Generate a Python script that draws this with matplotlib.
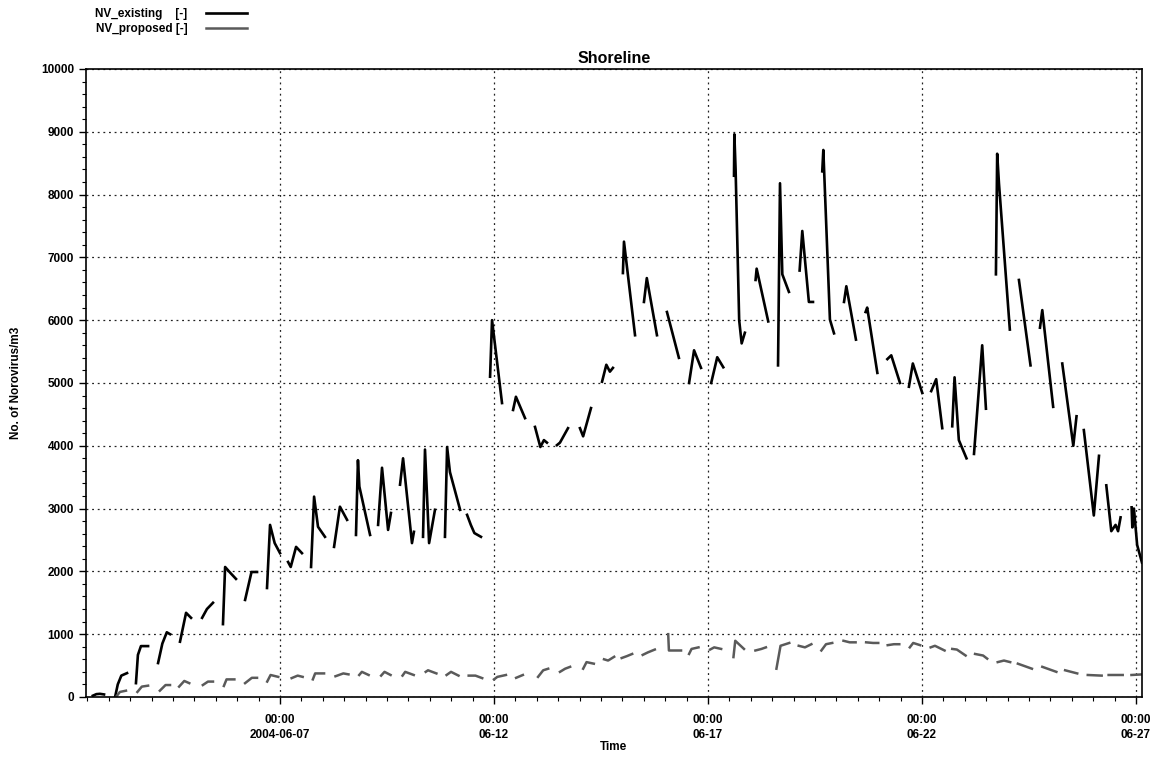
import numpy as np
import matplotlib
matplotlib.use("Agg")
import matplotlib.pyplot as plt
import matplotlib.dates as mdates
from matplotlib.ticker import MultipleLocator

plt.rcParams['font.family'] = ['Liberation Sans', 'DejaVu Sans']

start = np.datetime64('2004-06-02T00:00')

# NV_existing: one piece per tide window (hours after 2004-06-02 00:00, count per m3)
existing_hours = [
    [15, 17, 19, 21.3], [27.5, 29, 31, 34.2], [39.2, 40.3, 42, 46], [51.6, 54, 56.5, 58.3],
    [63.9, 67.3, 70.1], [76.3, 79, 82.4], [88, 89.2, 92, 95.3], [100.4, 104, 107.1],
    [112.7, 114.4, 117, 120], [124.5, 126, 129, 132.3], [137.4, 139.1, 141.3, 145.2],
    [150.3, 153.6, 157.6], [162.6, 163.7, 164.5, 170.5], [175, 177.2, 180.6, 182.2],
    [187.3, 189, 194, 195.1], [200.2, 201.3, 203.6, 206.9], [212.5, 213.7, 215.3, 221],
    [224.9, 227, 229, 232.7], [237.8, 238.9, 244.5], [250.7, 252.3, 257.4],
    [263, 266, 268, 269.7], [275.3, 277, 281.5], [288.2, 290, 294.4],
    [300.6, 303, 305, 306.7], [312.3, 312.9, 319.1], [324.1, 325.7, 331.4], [337, 343.7],
    [349.4, 352.2, 356.1], [361.8, 365.2, 368.6],
    [374.6, 374.8, 375.5, 376.5, 377.5, 378.9, 380.7], [386.7, 387.3, 393.8],
    [399.3, 400.4, 401.7, 405.4], [411.4, 412.9, 416.6, 418.9], [424.1, 424.7, 428.4, 430.7],
    [436.3, 437.6, 443], [448.4, 449.3, 455], [460.6, 462.8, 467.7], [472.7, 474.9, 480.2],
    [485.2, 488, 491.4], [497, 498.3, 500.7, 505], [509.2, 513.8, 515.9],
    [521.5, 522.2, 523.2, 529.3], [534.4, 540.9], [546.2, 547.5, 553.6],
    [558.7, 564.9, 566.7], [570.8, 576.4, 579.3], [583.4, 586.2, 588.6, 590, 591.4],
    [597.6, 598, 598.9, 600.7, 603.4],
]
existing_values = [
    [20, 45, 50, 40], [0, 200, 340, 380], [220, 670, 810, 810], [540, 850, 1030, 1000],
    [880, 1340, 1260], [1260, 1400, 1500], [1160, 2070, 1980, 1880], [1545, 1990, 1990],
    [1735, 2740, 2450, 2290], [2150, 2070, 2390, 2290], [2070, 3190, 2710, 2550],
    [2390, 3030, 2820], [2580, 3770, 3350, 2580], [2740, 3650, 2660, 2930],
    [3380, 3800, 2450, 2630], [2550, 3940, 2450, 2980], [2550, 3980, 3580, 2980],
    [2900, 2740, 2610, 2550], [5100, 6000, 4680], [4570, 4780, 4440],
    [4300, 3980, 4090, 4050], [4010, 4050, 4280], [4280, 4150, 4600],
    [5020, 5290, 5180, 5240], [6750, 7250, 5760], [6290, 6670, 5760], [6130, 5400],
    [5000, 5520, 5240], [5000, 5410, 5250],
    [8300, 8960, 8400, 7200, 6000, 5630, 5800], [6640, 6820, 5980],
    [5280, 8180, 6730, 6450], [6790, 7420, 6290, 6290], [8370, 8710, 6010, 5790],
    [6290, 6540, 5690], [6130, 6200, 5160], [5380, 5440, 5000], [4940, 5310, 4840],
    [4870, 5060, 4280], [4310, 5090, 4090, 3800], [3870, 5600, 4590],
    [6730, 8650, 8180, 5850], [6640, 5280], [5880, 6160, 4620],
    [5310, 4000, 4470], [4250, 2890, 3840], [3370, 2640, 2740, 2640, 2860],
    [3020, 2700, 3000, 2420, 2140],
]

# NV_proposed
proposed_hours = [
    [28, 30.2, 33.6], [40, 42.5, 46], [52.6, 55.8, 58.3], [63.4, 66.3, 69.1],
    [76.7, 79.6, 82.4], [88.5, 90, 94.4], [100.4, 104.2, 107.1], [112.8, 114.7, 119],
    [126.5, 129.9, 132.7], [138.4, 139.7, 144.7], [151.1, 155.5, 158.4],
    [164.4, 165.9, 169.7], [176.7, 178.6, 182], [188.7, 190.2, 195], [201.7, 203, 207.7],
    [213.4, 215.9, 220.1], [225.8, 229.6, 233.4], [240, 241.9, 246.7], [252.4, 256.2],
    [264.7, 267.6, 270.4], [277, 279.9, 282.7], [290, 291.9, 296], [301.7, 304, 307.4],
    [311.6, 314.5, 317.5], [323.4, 326.3, 330.2], [337.7, 338.1, 344.9],
    [349.4, 350.8, 354.7], [361.2, 363.5, 367.4], [374.3, 375.3, 380.2],
    [386.6, 390, 392.5], [398.4, 400.7, 405.6], [410.9, 414.4, 418], [423.6, 426.2, 429.7],
    [436, 439.5, 442.8], [448.7, 452.6, 455.5], [460.8, 464.3, 467.3], [473.2, 475.1, 479],
    [484.9, 487.3, 492.7], [497, 499.6, 504.5], [509.8, 514.3, 516.6], [522.5, 526, 529.5],
    [533.8, 541.7], [547.5, 555.4], [560.3, 567.1], [573, 580.8], [584.7, 592.6],
    [597.5, 604],
]
proposed_values = [
    [0, 80, 100], [80, 165, 180], [100, 190, 190], [165, 255, 220],
    [190, 245, 245], [175, 280, 280], [220, 305, 305], [245, 350, 320],
    [300, 340, 320], [280, 375, 375], [330, 375, 360],
    [350, 400, 350], [340, 400, 350], [340, 400, 350], [400, 425, 375],
    [350, 400, 340], [340, 340, 300], [280, 320, 350], [305, 350],
    [320, 425, 450], [400, 450, 480], [450, 555, 530], [600, 580, 640],
    [620, 650, 685], [670, 710, 755], [1000, 740, 740],
    [685, 765, 790], [755, 790, 765], [635, 895, 765],
    [740, 765, 790], [450, 815, 860], [815, 790, 840], [740, 840, 860],
    [895, 870, 870], [870, 860, 860], [825, 840, 840], [790, 860, 825],
    [790, 815, 740], [765, 755, 660], [685, 660, 610], [555, 580, 555],
    [530, 450], [480, 400], [425, 375], [350, 340], [350, 350],
    [350, 360],
]

tick_days = ['2004-06-07', '2004-06-12', '2004-06-17', '2004-06-22', '2004-06-27']
tick_labels = ['00:00\n2004-06-07', '00:00\n06-12', '00:00\n06-17', '00:00\n06-22', '00:00\n06-27']


def to_time(hours):
    return start + (np.asarray(hours) * 60).round().astype('timedelta64[m]')


def join(hours_list, values_list):
    # pieces separated by NaN so the line breaks between tide windows
    t, v = [], []
    for h, y in zip(hours_list, values_list):
        t.extend(to_time(h))
        v.extend(y)
        t.append(to_time([h[-1] + 0.01])[0])
        v.append(np.nan)
    return np.array(t), np.array(v, dtype=float)


fig = plt.figure(figsize=(11.61, 7.57), dpi=100)
ax = fig.add_axes([0.0741, 0.0793, 0.9095, 0.8296])

te, ve = join(existing_hours, existing_values)
tp, vp = join(proposed_hours, proposed_values)
l1, = ax.plot(te, ve, color='black', lw=1.9, label='NV_existing    [-]')
l2, = ax.plot(tp, vp, color='#5a5a5a', lw=1.8, label='NV_proposed [-]')

ax.set_ylim(0, 10000)
ax.set_xlim(to_time([11.2])[0], to_time([603.4])[0])
ax.yaxis.set_major_locator(MultipleLocator(1000))
ax.yaxis.set_minor_locator(MultipleLocator(200))
ax.set_xticks([np.datetime64(d + 'T00:00') for d in tick_days])
ax.set_xticklabels(tick_labels, linespacing=1.35)
ax.xaxis.set_minor_locator(mdates.HourLocator(byhour=[0, 12]))

ax.grid(True, which='major', color='#222222', linestyle=(0, (1.5, 3)), lw=0.9)
ax.tick_params(which='major', direction='out', length=5, width=1, labelsize=8.5)
ax.tick_params(axis='x', which='major', pad=7)
ax.tick_params(which='minor', direction='out', length=3, width=0.8)
for lab in ax.get_xticklabels() + ax.get_yticklabels():
    lab.set_fontweight('bold')
for s in ax.spines.values():
    s.set_linewidth(1.2)

ax.set_title('Shoreline', fontsize=11.5, fontweight='bold', pad=4)
ax.set_ylabel('No. of Norovirus/m3', fontsize=8.5, fontweight='bold', labelpad=14)
ax.set_xlabel('Time', fontsize=8.5, fontweight='bold', labelpad=0)

fig.legend(handles=[l1, l2], loc='upper left', bbox_to_anchor=(0.073, 1.003),
           frameon=False, markerfirst=False, handlelength=3.4,
           labelspacing=0.25, handletextpad=1.6,
           prop={'weight': 'bold', 'size': 8.5})

fig.savefig('out.png', dpi=100)
